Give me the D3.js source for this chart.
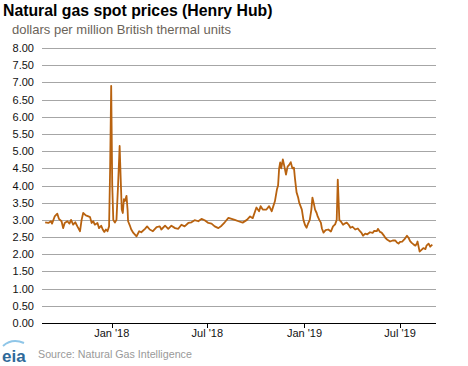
<!DOCTYPE html>
<html><head><meta charset="utf-8">
<script src="https://cdn.jsdelivr.net/npm/d3@7"></script>
<style>body{margin:0;background:#fff;}svg{display:block;font-family:"Liberation Sans",Arial,sans-serif;}</style>
</head><body><svg id="c" width="468" height="366"></svg>
<script>
const title = "Natural gas spot prices (Henry Hub)";
const subtitle = "dollars per million British thermal units";
const source = "Source: Natural Gas Intelligence";
const yTicks = [0,0.5,1,1.5,2,2.5,3,3.5,4,4.5,5,5.5,6,6.5,7,7.5,8];
const xTickDates = ["2018-01-01","2018-07-01","2019-01-01","2019-07-01"];
const xTickLabels = ["Jan '18","Jul '18","Jan '19","Jul '19"];
const dates = [
"2017-08-28","2017-09-03","2017-09-08","2017-09-10","2017-09-15","2017-09-20","2017-09-23","2017-09-28","2017-10-01","2017-10-04",
"2017-10-09","2017-10-13","2017-10-16","2017-10-20","2017-10-24","2017-10-28","2017-11-02","2017-11-05","2017-11-08","2017-11-13",
"2017-11-18","2017-11-21","2017-11-24","2017-11-27","2017-11-30","2017-12-05","2017-12-08","2017-12-12","2017-12-15","2017-12-18",
"2017-12-21","2017-12-24","2017-12-27","2017-12-29","2017-12-31","2018-01-02","2018-01-04","2018-01-07","2018-01-10","2018-01-13",
"2018-01-16","2018-01-18","2018-01-20","2018-01-22","2018-01-24","2018-01-26","2018-01-29","2018-01-31","2018-02-01","2018-02-04",
"2018-02-07","2018-02-11","2018-02-14","2018-02-17","2018-02-22","2018-02-26","2018-03-05","2018-03-09","2018-03-14","2018-03-20",
"2018-03-27","2018-04-02","2018-04-05","2018-04-12","2018-04-18","2018-04-24","2018-05-01","2018-05-07","2018-05-13","2018-05-19",
"2018-05-26","2018-06-01","2018-06-07","2018-06-14","2018-06-20","2018-06-26","2018-07-03","2018-07-09","2018-07-15","2018-07-22",
"2018-07-28","2018-08-03","2018-08-10","2018-08-16","2018-08-22","2018-08-29","2018-09-06","2018-09-14","2018-09-20","2018-09-25",
"2018-10-02","2018-10-07","2018-10-10","2018-10-14","2018-10-21","2018-10-26","2018-10-31","2018-11-03","2018-11-06","2018-11-10",
"2018-11-12","2018-11-14","2018-11-16","2018-11-18","2018-11-21","2018-11-24","2018-11-27","2018-11-30","2018-12-03","2018-12-06",
"2018-12-09","2018-12-12","2018-12-14","2018-12-17","2018-12-20","2018-12-22","2018-12-27","2018-12-30","2019-01-02","2019-01-05",
"2019-01-08","2019-01-11","2019-01-14","2019-01-16","2019-01-19","2019-01-21","2019-01-24","2019-01-26","2019-01-29","2019-02-01",
"2019-02-03","2019-02-06","2019-02-10","2019-02-15","2019-02-20","2019-02-24","2019-02-28","2019-03-03","2019-03-05","2019-03-07",
"2019-03-08","2019-03-11","2019-03-15","2019-03-19","2019-03-22","2019-03-26","2019-03-29","2019-04-02","2019-04-07","2019-04-12",
"2019-04-16","2019-04-19","2019-04-22","2019-04-26","2019-04-30","2019-05-05","2019-05-10","2019-05-13","2019-05-18","2019-05-20",
"2019-05-24","2019-05-27","2019-05-31","2019-06-03","2019-06-07","2019-06-12","2019-06-17","2019-06-22","2019-06-25","2019-06-28",
"2019-07-01","2019-07-05","2019-07-09","2019-07-14","2019-07-17","2019-07-20","2019-07-23","2019-07-27","2019-07-30","2019-08-02",
"2019-08-03","2019-08-06","2019-08-07","2019-08-10","2019-08-14","2019-08-18","2019-08-20","2019-08-24","2019-08-27","2019-08-31"];
const prices = [
2.93,2.91,2.96,2.89,3.10,3.18,3.03,2.96,2.76,2.91,
2.96,2.89,3.00,2.86,2.93,2.81,2.67,3.00,3.20,3.13,
3.10,3.08,2.91,2.96,2.86,2.91,2.76,2.83,2.72,2.65,
2.72,2.67,2.81,4.50,6.90,4.00,3.00,2.92,3.00,4.00,
5.15,4.20,3.30,3.20,3.60,3.55,3.70,3.30,2.96,2.85,
2.72,2.62,2.57,2.52,2.67,2.64,2.74,2.81,2.72,2.67,
2.79,2.81,2.72,2.83,2.74,2.83,2.76,2.74,2.86,2.81,
2.91,2.93,2.99,2.96,3.03,2.99,2.91,2.89,2.81,2.76,
2.83,2.93,3.06,3.03,3.00,2.96,2.92,3.00,3.10,3.05,
3.36,3.25,3.40,3.30,3.30,3.40,3.25,3.40,3.54,3.90,
4.00,4.50,4.67,4.50,4.76,4.55,4.32,4.55,4.60,4.68,
4.50,4.52,4.20,3.80,3.65,3.50,3.30,3.00,2.85,2.77,
2.90,3.00,3.30,3.65,3.45,3.30,3.20,3.10,3.00,2.92,
2.75,2.63,2.70,2.72,2.66,2.81,2.87,3.00,4.17,3.40,
3.00,2.95,2.86,2.90,2.92,2.85,2.77,2.80,2.72,2.75,
2.67,2.62,2.54,2.60,2.58,2.64,2.62,2.68,2.67,2.74,
2.65,2.63,2.55,2.48,2.42,2.37,2.40,2.40,2.34,2.31,
2.36,2.37,2.43,2.54,2.48,2.38,2.33,2.28,2.25,2.32,
2.37,2.15,2.08,2.12,2.18,2.15,2.25,2.31,2.22,2.28];

const parse = d3.timeParse("%Y-%m-%d");
const data = dates.map((d,i)=>({date:parse(d), v:prices[i]}));
const svg = d3.select("#c");
const x = d3.scaleTime().domain([parse("2017-08-22"), parse("2019-09-07")]).range([42,436]);
const y = d3.scaleLinear().domain([0,8]).range([323,48]);

svg.append("text").attr("x",3).attr("y",16).attr("font-size","15.8px").attr("font-weight","bold").attr("fill","#000").text(title);
svg.append("text").attr("x",12).attr("y",34).attr("font-size","13px").attr("fill","#6b6359").text(subtitle);

// grid
svg.append("g").selectAll("line").data(yTicks).join("line")
  .attr("x1",42).attr("x2",436).attr("y1",d=>Math.round(y(d))+0.5).attr("y2",d=>Math.round(y(d))+0.5)
  .attr("stroke",d=>d===0?"#000":"#a6a6a6").attr("stroke-width",1);
svg.append("g").selectAll("text").data(yTicks).join("text")
  .attr("x",34).attr("y",d=>Math.round(y(d))+4).attr("text-anchor","end").attr("font-size","11px").attr("fill","#111")
  .text(d3.format(".2f"));

// x ticks
const xt = xTickDates.map((d,i)=>({d:parse(d), l:xTickLabels[i]}));
svg.append("g").selectAll("line").data(xt).join("line")
  .attr("x1",d=>Math.round(x(d.d))+0.5).attr("x2",d=>Math.round(x(d.d))+0.5).attr("y1",323).attr("y2",328)
  .attr("stroke","#000");
svg.append("g").selectAll("text").data(xt).join("text")
  .attr("x",d=>x(d.d)).attr("y",337).attr("text-anchor","middle").attr("font-size","11px").attr("fill","#111").text(d=>d.l);

// line
const line = d3.line().x(d=>x(d.date)).y(d=>y(d.v));
svg.append("path").datum(data).attr("d",line).attr("fill","none").attr("stroke","#b8620f").attr("stroke-width",1.8).attr("stroke-linejoin","round");

// footer
svg.append("path").attr("d","M3,346 Q12,338 24,343").attr("fill","none").attr("stroke","#8fc6e8").attr("stroke-width",2);
svg.append("text").attr("x",2).attr("y",362).attr("font-size","17px").attr("fill","#2f6a9a").attr("font-weight","bold").text("eia");
svg.append("text").attr("x",38).attr("y",358).attr("font-size","10.7px").attr("fill","#999").text(source);
</script></body></html>
